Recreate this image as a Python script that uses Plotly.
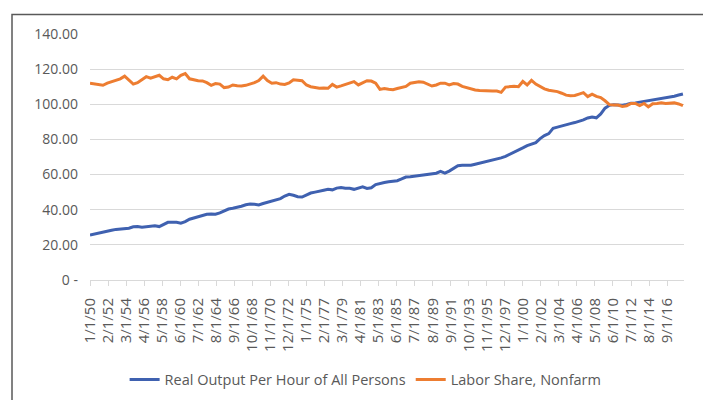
import pandas as pd
import plotly.graph_objects as go

# semi-annual readings, Jan 1950 .. Jul 2018
output_per_hour = [
    25.6, 26.2, 26.6, 27.3, 27.6, 28.3, 28.8, 28.9, 29.0, 29.5,
    30.3, 30.4, 30.0, 30.3, 30.7, 30.9, 30.4, 31.8, 32.8, 32.8,
    32.9, 32.3, 33.2, 34.6, 35.3, 36.0, 36.8, 37.4, 37.6, 37.4,
    38.2, 39.5, 40.4, 40.8, 41.2, 42.0, 42.8, 43.2, 43.1, 42.7,
    43.5, 44.3, 44.8, 45.5, 46.3, 47.8, 48.8, 48.2, 47.4, 47.2,
    48.4, 49.5, 50.0, 50.7, 51.1, 51.6, 51.3, 52.3, 52.6, 52.2,
    52.2, 51.6, 52.5, 53.0, 52.1, 52.5, 54.3, 55.0, 55.5, 55.9,
    56.2, 56.5, 57.5, 58.6, 58.8, 59.1, 59.3, 59.8, 60.1, 60.4,
    60.8, 61.8, 60.8, 62.0, 63.6, 65.0, 65.3, 65.2, 65.3, 65.9,
    66.5, 67.1, 67.7, 68.2, 68.7, 69.5, 70.4, 71.5, 72.8, 74.0,
    75.2, 76.5, 77.4, 78.2, 80.5, 82.2, 83.3, 86.3, 87.0, 87.8,
    88.5, 89.0, 89.6, 90.3, 91.1, 92.2, 92.8, 92.3, 94.5, 97.8,
    99.4, 99.8, 99.6, 99.5, 99.9, 100.6, 100.8, 101.2, 101.5, 102.0,
    102.3, 102.6, 103.1, 103.6, 104.0, 104.6, 105.3, 105.9,
]
labor_share = [
    112.0, 111.5, 111.3, 110.8, 112.0, 112.9, 113.5, 114.5, 116.0, 113.5,
    111.5, 112.3, 114.0, 115.7, 114.8, 115.8, 116.5, 114.5, 114.0, 115.4,
    114.5, 116.5, 117.5, 114.5, 113.8, 113.4, 113.3, 112.3, 110.8, 111.8,
    111.5, 109.5, 109.8, 111.0, 110.5, 110.4, 110.8, 111.5, 112.3, 113.5,
    116.0, 113.5, 112.0, 112.3, 111.5, 111.3, 112.2, 114.0, 113.8, 113.4,
    111.0, 110.0, 109.6, 109.1, 109.2, 109.1, 111.3, 109.8, 110.5, 111.3,
    112.2, 112.9, 111.0, 112.0, 113.4, 113.2, 112.0, 108.5, 109.0, 108.6,
    108.3, 109.0, 109.5, 110.2, 112.0, 112.3, 112.8, 112.6, 111.5, 110.4,
    111.0, 112.0, 112.0, 111.0, 111.8, 111.5, 110.2, 109.5, 108.6, 108.1,
    107.8, 107.6, 107.6, 107.6, 107.5, 106.8, 109.8, 110.2, 110.2, 110.0,
    113.0, 111.0, 113.6, 111.5, 110.0, 108.8, 108.0, 107.6, 107.2, 106.3,
    105.2, 104.8, 105.0, 105.8, 106.6, 104.4, 105.8, 104.5, 103.8, 102.0,
    99.8, 99.6, 99.6, 98.8, 99.2, 100.5, 100.5, 99.3, 100.5, 98.5,
    100.3, 100.5, 100.8, 100.4, 100.4, 100.8, 100.2, 99.2,
]
dates = pd.date_range("1950-01-01", periods=len(labor_share), freq="6MS")

# Excel-style category labels every 25 months
tick_dates = pd.date_range("1950-01-01", periods=33, freq="25MS")
tick_text = [f"{d.month}/1/{d.year % 100:02d}" for d in tick_dates]

y_ticks = [0, 20, 40, 60, 80, 100, 120, 140]
y_text = ["0 -"] + [f"{v:.2f}" for v in y_ticks[1:]]

fig = go.Figure()
fig.add_trace(go.Scatter(
    x=dates, y=output_per_hour, mode="lines",
    name="Real Output Per Hour of All Persons",
    line=dict(color="#3f61b0", width=3),
))
fig.add_trace(go.Scatter(
    x=dates, y=labor_share, mode="lines",
    name="Labor Share, Nonfarm",
    line=dict(color="#ed7d31", width=3),
))

# page body adds an 8px offset, margins compensate for it
fig.update_layout(
    width=711, height=400,
    margin=dict(l=82, r=35, t=26, b=128, autoexpand=False),
    plot_bgcolor="white", paper_bgcolor="white",
    font=dict(family="Open Sans", size=14, color="#595959"),
    showlegend=True,
    legend=dict(orientation="h", x=0.464, xanchor="center",
                y=-0.405, yanchor="middle", itemwidth=30,
                font=dict(size=14.5, color="#595959")),
    xaxis=dict(
        type="date", range=["1950-01-01", "2018-08-15"],
        tickmode="array", tickvals=tick_dates, ticktext=tick_text,
        tickangle=-90, ticks="outside", ticklen=5, tickcolor="#d9d9d9",
        tickfont=dict(size=15), automargin=False,
        showgrid=False, showline=True, linecolor="#d9d9d9", linewidth=1,
        ticklabelstandoff=6,
    ),
    yaxis=dict(
        range=[0, 140], tickmode="array", tickvals=y_ticks, ticktext=y_text,
        showgrid=True, gridcolor="#d9d9d9", gridwidth=1, automargin=False,
        zeroline=False, showline=False, ticks="", ticklabelstandoff=11,
    ),
)

# chart frame
fig.add_shape(type="rect", xref="paper", yref="paper",
              x0=-0.1313, x1=1.0404, y0=-0.55, y1=1.079,
              line=dict(color="#595959", width=1.5))

fig.write_html("out.html")
